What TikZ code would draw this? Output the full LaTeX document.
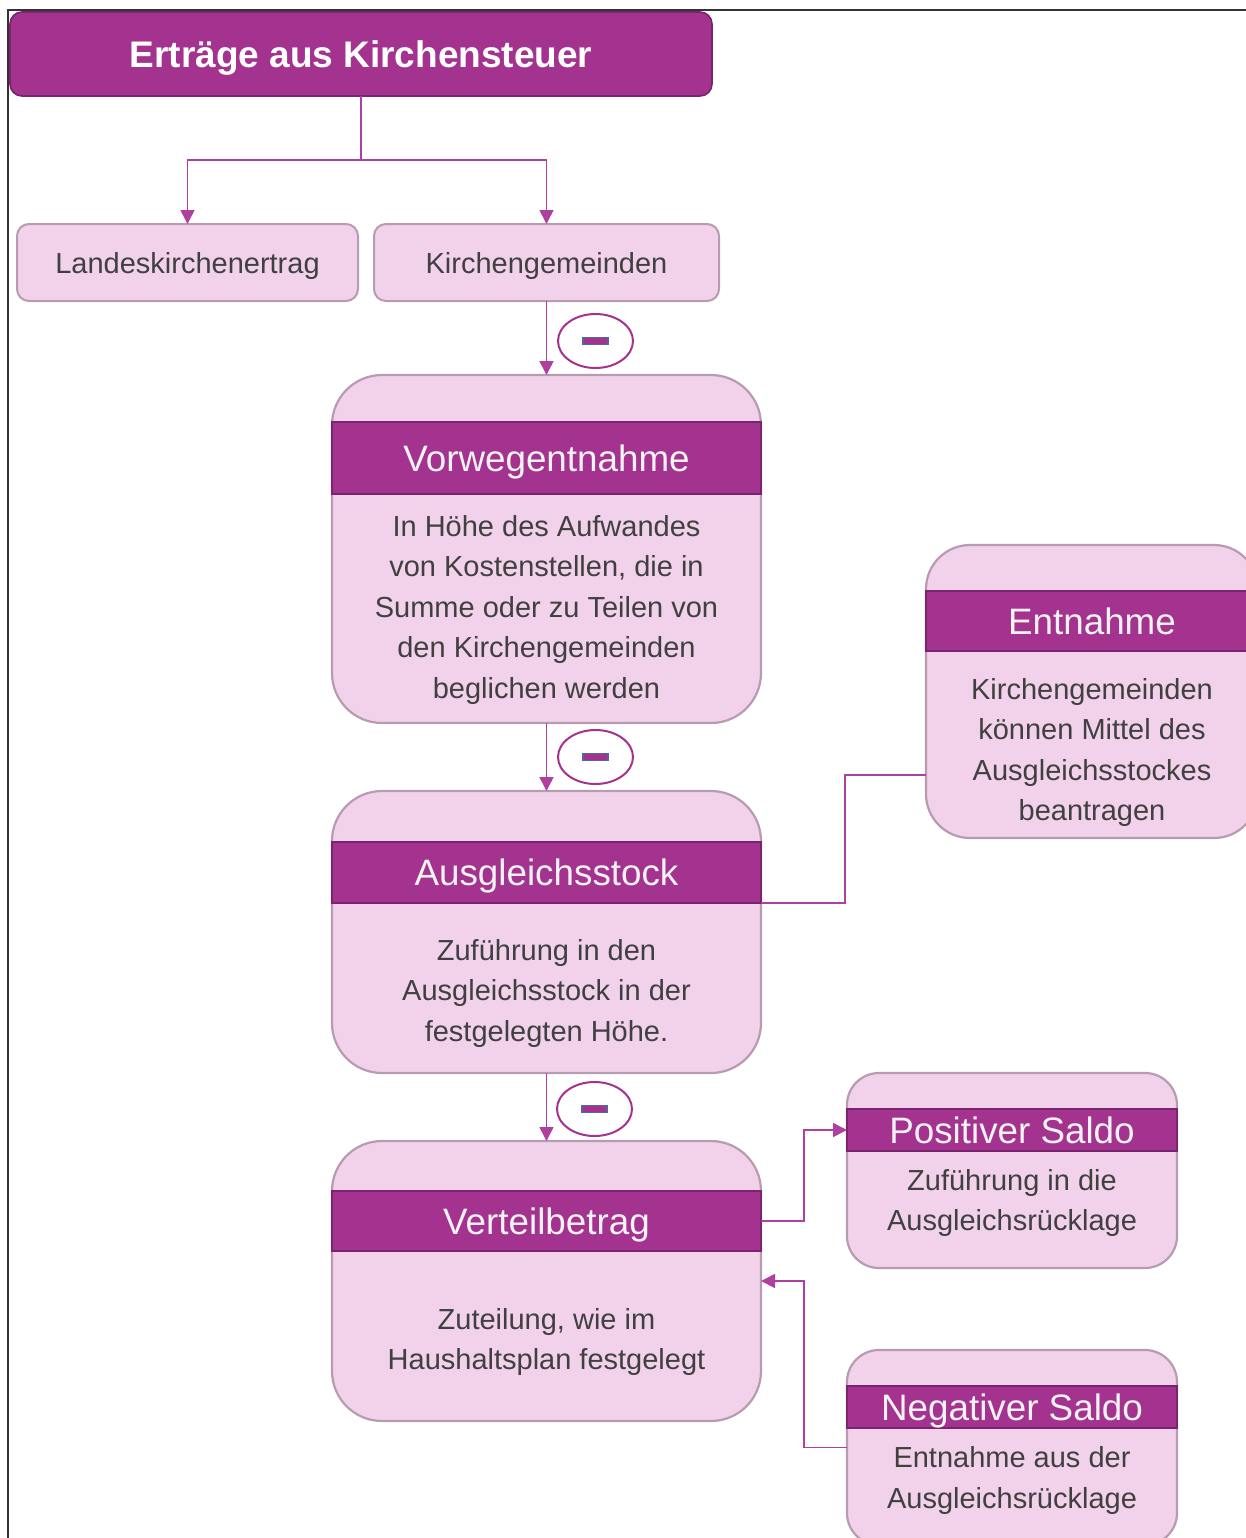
\documentclass[tikz,border=0pt]{standalone}
\usepackage{fontspec}
\setmainfont{Liberation Sans}
\usetikzlibrary{positioning, arrows.meta, shapes.geometric, calc}

\definecolor{lila}{RGB}{163,51,143}
\definecolor{lilarand}{RGB}{122,35,110}
\definecolor{rosa}{RGB}{241,210,234}
\definecolor{rosarand}{RGB}{183,155,177}
\definecolor{pfeil}{RGB}{176,64,160}
\definecolor{schrift}{RGB}{64,64,64}
\definecolor{minusrand}{RGB}{79,105,160}

\begin{document}
\begin{tikzpicture}[
    % one unit = one pixel of the page, y runs downwards
    x=0.5pt, y=-0.5pt,
    titlebox/.style={
        rectangle,
        rounded corners=6pt,
        draw=lilarand,
        line width=0.8pt,
        fill=lila,
        text=white,
        font=\bfseries\fontsize{18.5}{22}\selectfont,
        text depth=0pt,
        minimum width=351pt,
        minimum height=42pt,
        inner sep=0pt, outer sep=0pt
    },
    smallbox/.style={
        rectangle,
        rounded corners=6pt,
        draw=rosarand,
        line width=1pt,
        fill=rosa,
        text=schrift,
        font=\fontsize{14.5}{20}\selectfont,
        text depth=0pt,
        minimum height=38.5pt,
        inner sep=0pt, outer sep=0pt
    },
    panel/.style={
        rectangle,
        rounded corners=25pt,
        draw=rosarand,
        line width=1.1pt,
        fill=rosa,
        minimum width=214.5pt,
        inner sep=0pt, outer sep=0pt
    },
    headbar/.style={
        rectangle,
        draw=lilarand,
        line width=1pt,
        fill=lila,
        text=white!95!black,
        font=\fontsize{18.4}{22}\selectfont,
        text depth=0pt,
        inner sep=0pt, outer sep=0pt
    },
    bodytext/.style={
        align=center,
        text=schrift,
        font=\fontsize{14.5}{20.25}\selectfont,
        inner sep=0pt
    },
    minusring/.style={
        ellipse,
        draw=lila,
        line width=1pt,
        fill=white,
        minimum width=37.5pt,
        minimum height=27pt,
        inner sep=0pt
    },
    minusbar/.style={
        rectangle,
        draw=minusrand,
        line width=0.6pt,
        fill=lila,
        minimum width=12.5pt,
        minimum height=3.5pt,
        inner sep=0pt
    },
    flow/.style={
        -{Triangle[length=7pt, width=7pt]}, % filled arrowhead
        draw=pfeil,
        line width=0.8pt
    },
    link/.style={
        draw=pfeil,
        line width=0.8pt
    },
    rahmen/.style={
        draw=black!80,
        line width=1pt
    }
]

    \useasboundingbox (0,0) rectangle (1246,1538);
    \clip (0,0) rectangle (1246,1538);

    % --- frame (cut on the right and at the bottom) ---
    \draw[rahmen] (1246,10) -- (8,10) -- (8,1538);

    % --- 1. Top row ---
    \node[titlebox] (titel) at (361,54) {Erträge aus Kirchensteuer};
    \node[smallbox, minimum width=170.5pt] (landes) at (187.5,262.5) {Landeskirchenertrag};
    \node[smallbox, minimum width=172.5pt, right=8pt of landes] (kirche) {Kirchengemeinden};

    % --- 2. Main column ---
    \node[panel, minimum height=174pt, below=37pt of kirche] (vorweg) {};
    \node[headbar, minimum width=214.5pt, minimum height=36pt, below=23.5pt of vorweg.north] (vorwegbar) {Vorwegentnahme};
    \node[bodytext, yshift=-0.5pt] (vorwegtext) at ($(vorwegbar.south)!0.5!(vorweg.south)$)
        {In Höhe des Aufwandes\\von Kostenstellen, die in\\Summe oder zu Teilen von\\den Kirchengemeinden\\beglichen werden};

    \node[panel, minimum height=141pt, below=34pt of vorweg] (ausgleich) {};
    \node[headbar, minimum width=214.5pt, minimum height=30.5pt, below=25.5pt of ausgleich.north] (ausgleichbar) {Ausgleichsstock};
    \node[bodytext, yshift=-2.5pt] (ausgleichtext) at ($(ausgleichbar.south)!0.5!(ausgleich.south)$)
        {Zuführung in den\\Ausgleichsstock in der\\festgelegten Höhe.};

    \node[panel, minimum height=140pt, below=34pt of ausgleich] (verteil) {};
    \node[headbar, minimum width=214.5pt, minimum height=30pt, below=25pt of verteil.north] (verteilbar) {Verteilbetrag};
    \node[bodytext, yshift=-3pt] (verteiltext) at ($(verteilbar.south)!0.5!(verteil.south)$)
        {Zuteilung, wie im\\Haushaltsplan festgelegt};

    % --- 3. Side boxes ---
    \node[panel, rounded corners=22pt, minimum width=166pt, minimum height=146.5pt] (entnahme) at (1092,691.5) {};
    \node[headbar, minimum width=166pt, minimum height=30pt, below=23pt of entnahme.north] (entnahmebar) {Entnahme};
    \node[bodytext, yshift=-4pt] (entnahmetext) at ($(entnahmebar.south)!0.5!(entnahme.south)$)
        {Kirchengemeinden\\können Mittel des\\Ausgleichsstockes\\beantragen};

    \node[panel, rounded corners=16pt, minimum width=165pt, minimum height=97.5pt] (positiv) at (1012,1170.5) {};
    \node[headbar, minimum width=165pt, minimum height=21pt, below=18pt of positiv.north] (positivbar) {Positiver Saldo};
    \node[bodytext, yshift=3.25pt] (positivtext) at ($(positivbar.south)!0.5!(positiv.south)$)
        {Zuführung in die\\Ausgleichsrücklage};

    \node[panel, rounded corners=16pt, minimum width=165pt, minimum height=97.5pt, below=41pt of positiv] (negativ) {};
    \node[headbar, minimum width=165pt, minimum height=21pt, below=18pt of negativ.north] (negativbar) {Negativer Saldo};
    \node[bodytext, yshift=3pt] (negativtext) at ($(negativbar.south)!0.5!(negativ.south)$)
        {Entnahme aus der\\Ausgleichsrücklage};

    % --- 4. Minus signs ---
    \node[minusring] (minus1) at (595.5,341) {};
    \node[minusbar] (minus1bar) at (minus1) {};
    \node[minusring] (minus2) at (595.5,757) {};
    \node[minusbar] (minus2bar) at (minus2) {};
    \node[minusring] (minus3) at (594.5,1109) {};
    \node[minusbar] (minus3bar) at (minus3) {};

    % --- 5. Connectors ---
    % Title -> both shares
    \draw[link] (titel.south) -- ++(0,64) coordinate (gabel);
    \draw[flow] (gabel) -| (landes);
    \draw[flow] (gabel) -| (kirche);

    % Down the main column
    \draw[flow] (kirche) -- (vorweg);
    \draw[flow] (vorweg) -- (ausgleich);
    \draw[flow] (ausgleich) -- (verteil);

    % Ausgleichsstock -- Entnahme
    \draw[link] (ausgleichbar.south east) -- ++(84,0) |- ([yshift=-41.75pt]entnahme.west);

    % Verteilbetrag -> Positiver Saldo
    \draw[flow] (verteilbar.east) -- ++(43,0) |- (positivbar.west);

    % Negativer Saldo -> Verteilbetrag
    \draw[flow] (negativ.west) -- ++(-43,0) |- (verteil.east);

\end{tikzpicture}
\end{document}
